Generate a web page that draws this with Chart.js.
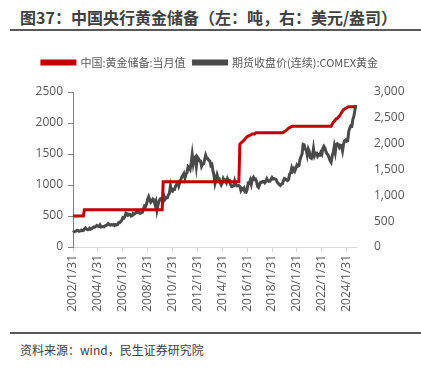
<!DOCTYPE html>
<html>
<head>
<meta charset="utf-8">
<script src="https://cdn.jsdelivr.net/npm/chart.js@4.4.1/dist/chart.umd.min.js"></script>
<style>
  body { margin: 0; width: 421px; height: 371px; background: #fff; position: relative; overflow: hidden;
         font-family: "Noto Sans CJK SC", "Open Sans", sans-serif; }
  #title { position: absolute; left: 20px; top: 5px; font-size: 16px; font-weight: bold; color: #404040; white-space: nowrap; }
  .rule { position: absolute; left: 10px; width: 411px; height: 2px; background: #595959; }
  #box { position: absolute; left: 0; top: 36px; width: 421px; height: 294px; }
  #source { position: absolute; left: 20px; top: 341px; font-size: 12px; color: #404040; white-space: nowrap; }
</style>
</head>
<body>
<div id="title">图37：中国央行黄金储备（左：吨，右：美元/盎司）</div>
<div class="rule" style="top:29px"></div>
<div id="box"><canvas id="goldChart"></canvas></div>
<div class="rule" style="top:332px"></div>
<div id="source">资料来源：wind，民生证券研究院</div>

<script>
// --- DATA (monthly, 2002/1 - 2024/10) ---
const startYear = 2002;
const endYear = 2024;
const lastMonth = 10;

// 中国:黄金储备:当月值 (吨)
const reserves = [
  500, 500, 500, 500, 500, 500, 500, 500, 500, 500, 500, 600,         // 2002
  600, 600, 600, 600, 600, 600, 600, 600, 600, 600, 600, 600,         // 2003
  600, 600, 600, 600, 600, 600, 600, 600, 600, 600, 600, 600,         // 2004
  600, 600, 600, 600, 600, 600, 600, 600, 600, 600, 600, 600,         // 2005
  600, 600, 600, 600, 600, 600, 600, 600, 600, 600, 600, 600,         // 2006
  600, 600, 600, 600, 600, 600, 600, 600, 600, 600, 600, 600,         // 2007
  600, 600, 600, 600, 600, 600, 600, 600, 600, 600, 600, 600,         // 2008
  600, 600, 600, 1054, 1054, 1054, 1054, 1054, 1054, 1054, 1054, 1054, // 2009
  1054, 1054, 1054, 1054, 1054, 1054, 1054, 1054, 1054, 1054, 1054, 1054, // 2010
  1054, 1054, 1054, 1054, 1054, 1054, 1054, 1054, 1054, 1054, 1054, 1054, // 2011
  1054, 1054, 1054, 1054, 1054, 1054, 1054, 1054, 1054, 1054, 1054, 1054, // 2012
  1054, 1054, 1054, 1054, 1054, 1054, 1054, 1054, 1054, 1054, 1054, 1054, // 2013
  1054, 1054, 1054, 1054, 1054, 1054, 1054, 1054, 1054, 1054, 1054, 1054, // 2014
  1054, 1054, 1054, 1054, 1054, 1658, 1677, 1693, 1708, 1722, 1743, 1762, // 2015
  1780, 1788, 1798, 1805, 1814, 1823, 1823, 1823, 1838, 1843, 1843, 1843, // 2016
  1843, 1843, 1843, 1843, 1843, 1843, 1843, 1843, 1843, 1843, 1843, 1843, // 2017
  1843, 1843, 1843, 1843, 1843, 1843, 1843, 1843, 1843, 1843, 1843, 1852, // 2018
  1864, 1874, 1885, 1900, 1916, 1926, 1936, 1945, 1948, 1948, 1948, 1948, // 2019
  1948, 1948, 1948, 1948, 1948, 1948, 1948, 1948, 1948, 1948, 1948, 1948, // 2020
  1948, 1948, 1948, 1948, 1948, 1948, 1948, 1948, 1948, 1948, 1948, 1948, // 2021
  1948, 1948, 1948, 1948, 1948, 1948, 1948, 1948, 1948, 1948, 1980, 2010, // 2022
  2025, 2050, 2068, 2076, 2092, 2113, 2137, 2165, 2192, 2216, 2226, 2235, // 2023
  2245, 2257, 2262, 2264, 2264, 2264, 2264, 2264, 2264, 2264              // 2024
];

// 期货收盘价(连续):COMEX黄金 (美元/盎司)
const comexGold = [
  282, 297, 302, 308, 326, 318, 304, 312, 324, 317, 318, 347,         // 2002
  368, 347, 334, 337, 364, 346, 355, 375, 388, 384, 398, 416,         // 2003
  402, 396, 427, 387, 394, 395, 391, 408, 416, 429, 453, 438,         // 2004
  422, 435, 429, 435, 417, 436, 429, 433, 473, 470, 496, 518,         // 2005
  569, 557, 583, 653, 643, 616, 634, 627, 599, 604, 648, 635,         // 2006
  652, 672, 669, 681, 660, 651, 667, 673, 743, 795, 783, 836,         // 2007
  926, 975, 917, 865, 886, 929, 914, 833, 884, 718, 814, 884,         // 2008
  928, 942, 922, 891, 978, 927, 955, 955, 1008, 1040, 1182, 1096,     // 2009
  1081, 1118, 1115, 1179, 1212, 1244, 1181, 1247, 1308, 1357, 1386, 1421, // 2010
  1333, 1411, 1439, 1556, 1536, 1502, 1628, 1790, 1620, 1725, 1746, 1566, // 2011
  1740, 1711, 1669, 1664, 1560, 1604, 1610, 1692, 1776, 1719, 1713, 1676, // 2012
  1664, 1578, 1597, 1476, 1393, 1234, 1312, 1396, 1327, 1323, 1250, 1202, // 2013
  1240, 1322, 1284, 1296, 1250, 1322, 1282, 1287, 1211, 1171, 1175, 1184, // 2014
  1279, 1213, 1183, 1184, 1190, 1172, 1095, 1132, 1114, 1141, 1065, 1061, // 2015
  1116, 1238, 1234, 1293, 1215, 1321, 1351, 1307, 1316, 1273, 1173, 1152, // 2016
  1211, 1253, 1249, 1268, 1268, 1242, 1269, 1321, 1284, 1271, 1275, 1309, // 2017
  1345, 1318, 1325, 1315, 1305, 1253, 1232, 1206, 1192, 1215, 1223, 1282, // 2018
  1325, 1316, 1298, 1285, 1311, 1413, 1437, 1529, 1472, 1514, 1472, 1523, // 2019
  1589, 1566, 1577, 1694, 1751, 1800, 1986, 1978, 1895, 1879, 1780, 1895, // 2020
  1850, 1728, 1715, 1769, 1905, 1771, 1817, 1818, 1757, 1784, 1776, 1829, // 2021
  1796, 1909, 1949, 1915, 1848, 1807, 1782, 1726, 1672, 1640, 1759, 1826, // 2022
  1945, 1836, 1986, 1999, 1982, 1929, 1970, 1966, 1866, 1995, 2057, 2072, // 2023
  2048, 2054, 2238, 2303, 2345, 2339, 2473, 2536, 2659, 2749              // 2024
];

const leftTicks = [0, 500, 1000, 1500, 2000, 2500];
const rightTicks = [0, 500, 1000, 1500, 2000, 2500, 3000];

// month-end date labels, e.g. 2002/1/31
const labels = [];
for (let y = startYear; y <= endYear; y++) {
  const months = (y === endYear) ? lastMonth : 12;
  for (let m = 1; m <= months; m++) {
    const day = new Date(y, m, 0).getDate();
    labels.push(y + '/' + m + '/' + day);
  }
}

// only label January of even years
function isShownLabel(lab) {
  const parts = lab.split('/');
  return parts[1] === '1' && parseInt(parts[0]) % 2 === 0;
}

// extra room under the legend
const legendGap = {
  id: 'legendGap',
  beforeInit(chart) {
    const fit = chart.legend.fit;
    chart.legend.fit = function () {
      fit.bind(chart.legend)();
      this.height += 14;
    };
  }
};

const tickFont = { family: '"Open Sans", "Noto Sans CJK SC", sans-serif', size: 12 };
const tickColor = '#595959';

const ctx = document.getElementById('goldChart').getContext('2d');
new Chart(ctx, {
  type: 'line',
  data: {
    labels: labels,
    datasets: [{
      label: '中国:黄金储备:当月值',
      data: reserves,
      yAxisID: 'yLeft',
      borderColor: '#c00000',
      backgroundColor: '#c00000',
      borderWidth: 3,
      pointRadius: 0,
      tension: 0
    }, {
      label: '期货收盘价(连续):COMEX黄金',
      data: comexGold,
      yAxisID: 'yRight',
      borderColor: '#4a4a4a',
      backgroundColor: '#4a4a4a',
      borderWidth: 3,
      pointRadius: 0,
      tension: 0
    }]
  },
  plugins: [legendGap],
  options: {
    responsive: true,
    maintainAspectRatio: false,
    animation: false,
    layout: { padding: { top: 13, right: 10, left: 9, bottom: 0 } },
    plugins: {
      legend: {
        position: 'top',
        labels: {
          boxWidth: 33,
          boxHeight: 3,
          padding: 8,
          color: '#595959',
          font: { family: '"Noto Sans CJK SC", sans-serif', size: 11 }
        }
      },
      tooltip: { enabled: false }
    },
    scales: {
      x: {
        type: 'category',
        grid: { display: true, drawOnChartArea: false, drawTicks: true, tickLength: 5, color: '#d9d9d9' },
        border: { display: true, color: '#d9d9d9', width: 1 },
        afterBuildTicks: (scale) => {
          scale.ticks = scale.ticks.filter(t => isShownLabel(labels[t.value]));
        },
        ticks: {
          autoSkip: false,
          minRotation: 90,
          maxRotation: 90,
          padding: 3,
          color: tickColor,
          font: tickFont,
          callback: function (v) { return this.getLabelForValue(v); }
        },
        afterFit: (scale) => { scale.height = 83; }
      },
      yLeft: {
        position: 'left',
        min: 0,
        max: 2500,
        afterBuildTicks: (scale) => { scale.ticks = leftTicks.map(v => ({ value: v })); },
        grid: { display: true, drawOnChartArea: false, drawTicks: true, tickLength: 5, color: '#808080' },
        border: { display: true, color: '#808080', width: 1 },
        ticks: { color: tickColor, font: tickFont, padding: 5, callback: v => String(v) },
        afterFit: (scale) => { scale.width = 64; }
      },
      yRight: {
        position: 'right',
        min: 0,
        max: 3000,
        afterBuildTicks: (scale) => { scale.ticks = rightTicks.map(v => ({ value: v })); },
        grid: { display: false },
        border: { display: false },
        ticks: { color: tickColor, font: tickFont, padding: 10, callback: v => v.toLocaleString('en-US') },
        afterFit: (scale) => { scale.width = 55; }
      }
    }
  }
});
</script>
</body>
</html>
